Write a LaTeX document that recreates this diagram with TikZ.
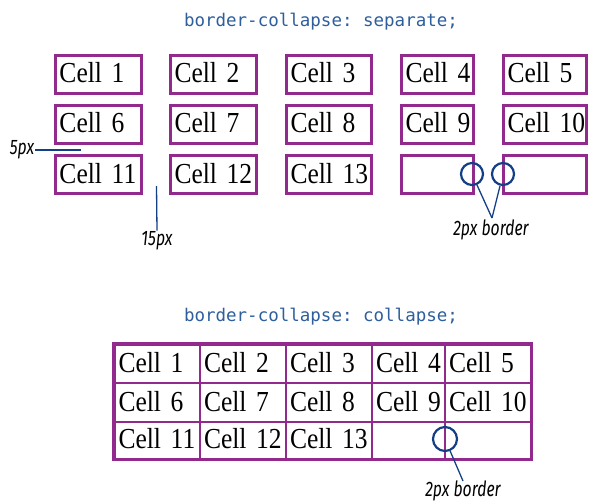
\documentclass[tikz,border=0pt]{standalone}
\usepackage{fontspec}
\setmainfont{Liberation Serif}
\setmonofont{DejaVu Sans Mono}
\newfontfamily\cellfont[FakeStretch=0.88,WordSpace=0.7]{Liberation Serif}
\newfontfamily\notefont[FakeStretch=0.75]{Fira Sans}
\definecolor{tablepurple}{HTML}{912A8C}
\definecolor{titleblue}{HTML}{2E5E9C}
\definecolor{markblue}{HTML}{123F86}

\begin{document}
\begin{tikzpicture}[x=1pt,y=-1pt,
        cellbox/.style={draw=tablepurple,line width=3pt,minimum height=38pt,inner xsep=4pt,inner ysep=0pt,
            align=left,text height=19pt,text depth=2pt,font=\cellfont\fontsize{29}{30}\selectfont},
        gridcell/.style={cellbox,line width=2pt},
        title/.style={font=\ttfamily\fontsize{17.5}{20}\selectfont,text=titleblue},
        note/.style={font=\notefont\itshape\fontsize{21}{22}\selectfont,inner sep=1pt},
        ringmark/.style={circle,draw=markblue,line width=2.2pt,minimum size=22pt,inner sep=0pt},
        leader/.style={draw=markblue,line width=1.3pt}
    ]
        \useasboundingbox (0,0) rectangle (590,503);

        % border-collapse: separate
        \node[title] (t1) at (321,22) {border-collapse: separate;};

        \node[cellbox,text width=78pt] (s1) at (98.5,74.5) {Cell~1};
        \node[cellbox,text width=78pt] (s2) at (213.5,74.5) {Cell~2};
        \node[cellbox,text width=77pt] (s3) at (329,74.5) {Cell~3};
        \node[cellbox,text width=64pt] (s4) at (437.5,74.5) {Cell~4};
        \node[cellbox,text width=75pt] (s5) at (545,74.5) {Cell~5};

        \node[cellbox,text width=78pt] (s6) at (98.5,124.5) {Cell~6};
        \node[cellbox,text width=78pt] (s7) at (213.5,124.5) {Cell~7};
        \node[cellbox,text width=77pt] (s8) at (329,124.5) {Cell~8};
        \node[cellbox,text width=64pt] (s9) at (437.5,124.5) {Cell~9};
        \node[cellbox,text width=75pt] (s10) at (545,124.5) {Cell~10};

        \node[cellbox,text width=78pt] (s11) at (98.5,174.5) {Cell~11};
        \node[cellbox,text width=78pt] (s12) at (213.5,174.5) {Cell~12};
        \node[cellbox,text width=77pt] (s13) at (329,174.5) {Cell~13};
        \node[cellbox,text width=64pt] (s14) at (437.5,174.5) {};
        \node[cellbox,text width=75pt] (s15) at (545,174.5) {};

        % spacing notes
        \node[note] (n5) at (22,150) {5px};
        \coordinate (d5) at (81,150);
        \draw[leader] (n5.east) -- (d5);

        \node[note] (n15) at (157,241) {15px};
        \coordinate (d15) at (156.5,186);
        \draw[leader] (n15.north) -- (d15);

        \node[ringmark] (o1) at (472,174) {};
        \node[ringmark] (o2) at (503,174) {};
        \coordinate (v1) at (492,218);
        \node[note,anchor=north] (b1) at (491,219) {2px border};
        \draw[leader] (o1) -- (v1);
        \draw[leader] (o2) -- (v1);

        % border-collapse: collapse
        \node[title] (t2) at (321,317) {border-collapse: collapse;};

        \node[gridcell,minimum height=38.5pt,text width=77.5pt] (c1) at (157.25,363.75) {Cell~1};
        \node[gridcell,minimum height=38.5pt,text width=78pt] (c2) at (243,363.75) {Cell~2};
        \node[gridcell,minimum height=38.5pt,text width=78pt] (c3) at (329,363.75) {Cell~3};
        \node[gridcell,minimum height=38.5pt,text width=65pt] (c4) at (408.5,363.75) {Cell~4};
        \node[gridcell,minimum height=38.5pt,text width=77.5pt] (c5) at (487.75,363.75) {Cell~5};

        \node[gridcell,minimum height=39pt,text width=77.5pt] (c6) at (157.25,402.5) {Cell~6};
        \node[gridcell,minimum height=39pt,text width=78pt] (c7) at (243,402.5) {Cell~7};
        \node[gridcell,minimum height=39pt,text width=78pt] (c8) at (329,402.5) {Cell~8};
        \node[gridcell,minimum height=39pt,text width=65pt] (c9) at (408.5,402.5) {Cell~9};
        \node[gridcell,minimum height=39pt,text width=77.5pt] (c10) at (487.75,402.5) {Cell~10};

        \node[gridcell,minimum height=36.5pt,text width=77.5pt] (c11) at (157.25,440.25) {Cell~11};
        \node[gridcell,minimum height=36.5pt,text width=78pt] (c12) at (243,440.25) {Cell~12};
        \node[gridcell,minimum height=36.5pt,text width=78pt] (c13) at (329,440.25) {Cell~13};
        \node[gridcell,minimum height=36.5pt,text width=65pt] (c14) at (408.5,440.25) {};
        \node[gridcell,minimum height=36.5pt,text width=77.5pt] (c15) at (487.75,440.25) {};

        \draw[tablepurple,line width=3pt] (c1.north west) rectangle (c15.south east);

        \node[ringmark,minimum size=24pt] (o3) at (445,439) {};
        \coordinate (v3) at (463,481);
        \node[note,anchor=north] (b3) at (463,480) {2px border};
        \draw[leader] (o3) -- (v3);
    \end{tikzpicture}
\end{document}
